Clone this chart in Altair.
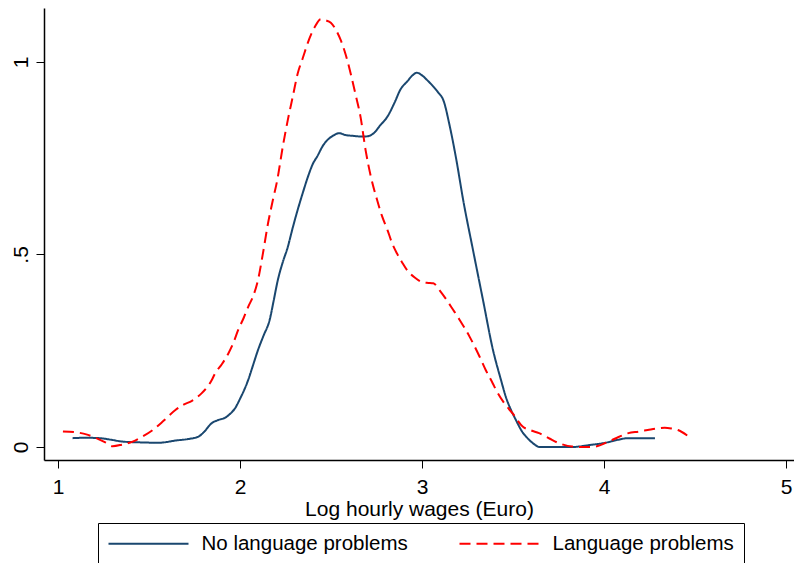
import altair as alt
import pandas as pd

series_names = ["No language problems", "Language problems"]
series_colors = ["#1a476f", "#ff0000"]
x_ticks = [1, 2, 3, 4, 5]
y_ticks = [0, 0.5, 1]

no_lang_x = [1.08, 1.15, 1.227, 1.29, 1.354, 1.45, 1.554, 1.65, 1.72, 1.772, 1.80, 1.845,
             1.88, 1.918, 1.95, 1.972, 2.0, 2.045, 2.07, 2.099, 2.13, 2.163, 2.185, 2.208,
             2.235, 2.263, 2.29, 2.317, 2.345, 2.372, 2.40, 2.426, 2.455, 2.48, 2.51, 2.544,
             2.58, 2.62, 2.68, 2.71, 2.735, 2.77, 2.81, 2.85, 2.88, 2.92, 2.95, 2.971, 3.00,
             3.03, 3.062, 3.09, 3.117, 3.153, 3.189, 3.226, 3.28, 3.335, 3.39, 3.434, 3.46, 3.49,
             3.516, 3.55, 3.59, 3.62, 3.643, 3.825, 3.92, 4.007, 4.07, 4.134, 4.28]
no_lang_y = [0.023, 0.024, 0.023, 0.019, 0.014, 0.012, 0.011, 0.017, 0.021, 0.027, 0.038, 0.062,
             0.070, 0.076, 0.088, 0.100, 0.125, 0.174, 0.210, 0.252, 0.290, 0.330, 0.380, 0.434,
             0.480, 0.520, 0.570, 0.616, 0.660, 0.700, 0.735, 0.756, 0.782, 0.797, 0.808, 0.815,
             0.810, 0.808, 0.806, 0.808, 0.815, 0.835, 0.858, 0.895, 0.927, 0.950, 0.966, 0.972, 0.965,
             0.952, 0.936, 0.920, 0.901, 0.832, 0.745, 0.642, 0.512, 0.382, 0.252, 0.174, 0.131, 0.095,
             0.070, 0.040, 0.018, 0.006, 0.0, 0.0, 0.005, 0.011, 0.018, 0.023, 0.023]

lang_x = [1.027, 1.10, 1.16, 1.21, 1.26, 1.30, 1.35, 1.41, 1.46, 1.52, 1.58, 1.645, 1.69, 1.736,
          1.79, 1.845, 1.863, 1.90, 1.936, 1.965, 1.99, 2.02, 2.045, 2.075, 2.099, 2.125, 2.154,
          2.18, 2.205, 2.235, 2.263, 2.29, 2.317, 2.345, 2.372, 2.41, 2.444, 2.47, 2.499, 2.525,
          2.553, 2.58, 2.608, 2.635, 2.662, 2.69, 2.72, 2.753, 2.78, 2.81, 2.835, 2.862, 2.89,
          2.917, 2.96, 3.008, 3.035, 3.062, 3.10, 3.135, 3.17, 3.207, 3.262, 3.316, 3.35, 3.389,
          3.407, 3.45, 3.498, 3.553, 3.60, 3.643, 3.70, 3.752, 3.825, 3.90, 3.95, 4.025, 4.08,
          4.134, 4.19, 4.24, 4.29, 4.334, 4.37, 4.406, 4.46]
lang_y = [0.040, 0.038, 0.032, 0.023, 0.012, 0.002, 0.006, 0.014, 0.026, 0.044, 0.068, 0.096, 0.110,
          0.120, 0.140, 0.174, 0.191, 0.215, 0.243, 0.272, 0.304, 0.335, 0.364, 0.395, 0.434, 0.500,
          0.581, 0.640, 0.694, 0.780, 0.850, 0.910, 0.970, 1.010, 1.049, 1.090, 1.111, 1.108, 1.102,
          1.085, 1.057, 1.020, 0.970, 0.915, 0.858, 0.771, 0.700, 0.642, 0.600, 0.564, 0.530, 0.503,
          0.480, 0.460, 0.440, 0.427, 0.426, 0.425, 0.405, 0.382, 0.357, 0.330, 0.286, 0.235, 0.200,
          0.165, 0.148, 0.115, 0.087, 0.053, 0.043, 0.036, 0.022, 0.010, 0.001, 0.0, 0.001, 0.014,
          0.026, 0.036, 0.040, 0.044, 0.048, 0.050, 0.048, 0.044, 0.029]

df = pd.concat([
    pd.DataFrame({"x": no_lang_x, "y": no_lang_y, "group": series_names[0],
                  "i": range(len(no_lang_x))}),
    pd.DataFrame({"x": lang_x, "y": lang_y, "group": series_names[1],
                  "i": range(len(lang_x))}),
], ignore_index=True)

FONT = "Liberation Sans"

legend = alt.Legend(
    title=None,
    orient="none",
    legendX=54,
    legendY=515,
    direction="horizontal",
    symbolType="M-1,0H7",
    symbolSize=400,
    symbolStrokeWidth=2,
    labelFont=FONT,
    labelFontSize=20.5,
    labelColor="black",
    labelOffset=72,
    labelLimit=400,
    labelExpr="datum.label == 'Language problems' ? datum.label + '\u00a0\u00a0\u00a0' : datum.label",
    columnPadding=47,
    padding=9.5,
    strokeColor="black",
)

chart = alt.Chart(df).mark_line(strokeWidth=2, interpolate="monotone", clip=True).encode(
    x=alt.X("x:Q",
            scale=alt.Scale(domain=[0.923, 5.044], nice=False, zero=False),
            axis=alt.Axis(values=x_ticks, title="Log hourly wages (Euro)", format="d",
                          labelFontSize=21, titleFontSize=21, titlePadding=1,
                          labelPadding=8, tickSize=8)),
    y=alt.Y("y:Q",
            scale=alt.Scale(domain=[-0.0338, 1.14], nice=False, zero=False),
            axis=alt.Axis(values=y_ticks, title=None,
                          labelExpr="datum.value == 0.5 ? '.5' : format(datum.value, 'd')",
                          labelAngle=270, labelAlign="center", labelBaseline="alphabetic",
                          labelFontSize=21, labelPadding=9, tickSize=8)),
    color=alt.Color("group:N", scale=alt.Scale(domain=series_names, range=series_colors),
                    legend=legend),
    strokeDash=alt.StrokeDash("group:N",
                              scale=alt.Scale(domain=series_names, range=[[1, 0], [11, 6]]),
                              legend=legend),
    order="i:Q",
).properties(
    width=750,
    height=452,
    autosize=alt.AutoSizeParams(type="none"),
    padding={"left": 36, "top": 0, "right": 0, "bottom": 103},
).configure_view(stroke=None).configure_axis(
    grid=False,
    domainColor="black",
    domainWidth=1.5,
    tickColor="black",
    tickWidth=1,
    labelColor="black",
    titleColor="black",
    labelFont=FONT,
    titleFont=FONT,
    titleFontWeight="normal",
)

chart.save("out.html", embed_options={"renderer": "svg", "actions": False})
